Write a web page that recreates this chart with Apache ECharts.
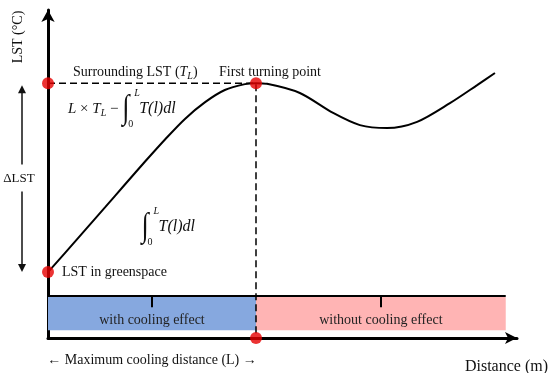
<!DOCTYPE html>
<html><head><meta charset="utf-8">
<script src="https://cdn.jsdelivr.net/npm/echarts@6/dist/echarts.min.js"></script>
<style>html,body{margin:0;padding:0;background:#fff}#c{width:550px;height:373px}</style>
</head><body><div id="c"></div>
<script>
// ---- data (distance units 0..100, LST units 0..100, conceptual) ----
const distance = [0, 3.6, 7.9, 12.2, 16.4, 20.7, 25.0, 29.2, 33.5, 37.7, 42.0, 44.35, 46.7, 53.7, 60.8, 66.5, 72.3, 78.7, 85.7, 91.5, 95.3];
const lst      = [20.1, 25.9, 32.9, 39.9, 46.8, 53.8, 60.6, 66.8, 71.9, 75.6, 77.4, 77.7, 77.5, 74.7, 68.6, 64.9, 64.0, 65.9, 71.6, 77.1, 80.8];
const surroundingLST = 77.7;
const greenspaceLST = 20.1;
const maxCoolingDistance = 44.35;
const zoneNames = ['with cooling effect', 'without cooling effect'];
const zoneStart = [0, 44.35];
const zoneEnd = [44.35, 97.6];
const zoneColors = ['#86a8df', '#ffb4b4'];
const zoneLow = 2.4, zoneHigh = 12.5, zoneBorder = 12.8, zoneTickBottom = 9.4;

const FAM = '"Liberation Serif", "Times New Roman", serif';
const chart = echarts.init(document.getElementById('c'), null, {renderer: 'canvas'});

const markAreas = zoneNames.map((n, i) => [
  {xAxis: zoneStart[i], yAxis: zoneLow, name: n, itemStyle: {color: zoneColors[i], opacity: 1},
   label: {show: true, position: 'insideBottom', distance: 3, color: '#222', fontFamily: FAM, fontSize: 14, formatter: n}},
  {xAxis: zoneEnd[i], yAxis: zoneHigh}
]);
const tickLines = zoneNames.map((n, i) => {
  const m = (zoneStart[i] + zoneEnd[i]) / 2;
  return [{coord: [m, zoneBorder]}, {coord: [m, zoneTickBottom]}];
});

chart.setOption({
  animation: false,
  grid: {left: 48, top: 10, width: 469, height: 328},
  xAxis: {type: 'value', min: 0, max: 100, splitLine: {show: false}, axisTick: {show: false}, axisLabel: {show: false},
    axisLine: {show: true, symbol: ['none', 'arrow'], symbolSize: [9, 12], lineStyle: {color: '#000', width: 3}}},
  yAxis: {type: 'value', min: 0, max: 100, splitLine: {show: false}, axisTick: {show: false}, axisLabel: {show: false},
    axisLine: {show: true, symbol: ['none', 'arrow'], symbolSize: [10, 12], lineStyle: {color: '#000', width: 3}}},
  series: [
    {type: 'line', z: 1, silent: true, symbol: 'none', clip: false,
     data: [[0, zoneBorder], [zoneEnd[1], zoneBorder]],
     lineStyle: {color: '#000', width: 2},
     markArea: {silent: true, data: markAreas},
     markLine: {silent: true, symbol: 'none', label: {show: false}, lineStyle: {color: '#000', width: 2, type: 'solid'}, data: tickLines}},
    {type: 'line', z: 3, silent: true, symbol: 'none', clip: false,
     data: [[0, surroundingLST], [maxCoolingDistance, surroundingLST], [maxCoolingDistance, 0]],
     lineStyle: {color: '#000', width: 1.5, type: [7, 4]}},
    {type: 'line', z: 5, silent: true, symbol: 'none', smooth: 0.3,
     data: distance.map((d, i) => [d, lst[i]]),
     lineStyle: {color: '#000', width: 2}},
    {type: 'scatter', z: 10, silent: true, clip: false, symbolSize: 12, itemStyle: {color: '#e60000'},
     data: [[0, surroundingLST], [maxCoolingDistance, surroundingLST], [0, greenspaceLST], [maxCoolingDistance, 0]]}
  ]
});

// ---- annotations ----
const ctx = document.createElement('canvas').getContext('2d');
function fnt(size, it) { return (it ? 'italic ' : '') + size + 'px ' + FAM; }
function tw(t, size, it) { ctx.font = fnt(size, it); return ctx.measureText(t).width; }
function txt(t, x, y, size, o) {
  o = o || {};
  return {type: 'text', x: x, y: y, rotation: o.rot || 0, scaleY: o.sy || 1, z: 30, silent: true,
    style: {text: t, font: fnt(size, o.it), fill: o.fill || '#111', align: o.align || 'left', verticalAlign: 'middle'}};
}
function seq(x, y, pieces, out) {
  for (const p of pieces) {
    if (p.int) {
      out.push(txt('\u222B', x, y, 26, {sy: 1.3}));
      out.push(txt(p.sup, x + 12, y - 16, 10, {it: true}));
      out.push(txt(p.sub, x + 6, y + 15, 10, {}));
      x += 17;
    } else {
      out.push(txt(p.t, x, y + (p.dy || 0), p.size, {it: p.it}));
      x += tw(p.t, p.size, p.it);
    }
  }
  return x;
}
const P = (x, y) => chart.convertToPixel({gridIndex: 0}, [x, y]);
const g = [];
const sDot = P(0, surroundingLST), tDot = P(maxCoolingDistance, surroundingLST), gDot = P(0, greenspaceLST), lDot = P(maxCoolingDistance, 0);

g.push(txt('LST (\u00B0C)', 18, 37, 14, {rot: Math.PI / 2, align: 'center'}));
g.push(txt('Distance (m)', 548, 367, 16, {align: 'right'}));
seq(sDot[0] + 25, sDot[1] - 11, [{t: 'Surrounding LST (', size: 14}, {t: 'T', size: 14, it: true}, {t: 'L', size: 10, it: true, dy: 4}, {t: ')', size: 14}], g);
g.push(txt('First turning point', tDot[0] + 14, tDot[1] - 11, 14, {align: 'center'}));
g.push(txt('LST in greenspace', gDot[0] + 14, gDot[1], 14));
seq(sDot[0] + 20, sDot[1] + 26, [{t: 'L', size: 15, it: true}, {t: ' \u00D7 ', size: 15}, {t: 'T', size: 15, it: true}, {t: 'L', size: 10, it: true, dy: 4}, {t: ' \u2212 ', size: 15}, {int: true, sup: 'L', sub: '0'}, {t: 'T(l)dl', size: 16, it: true}], g);
const mid = P(maxCoolingDistance * 0.45, 33.8);
seq(mid[0], mid[1], [{int: true, sup: 'L', sub: '0'}, {t: 'T(l)dl', size: 16, it: true}], g);

// delta LST arrow
const ax = 22, yTop = sDot[1] + 2, yBot = gDot[1];
const ymid = (yTop + yBot) / 2;
g.push({type: 'line', silent: true, z: 30, shape: {x1: ax, y1: yTop + 6, x2: ax, y2: ymid - 14}, style: {stroke: '#111', lineWidth: 1.5}});
g.push({type: 'line', silent: true, z: 30, shape: {x1: ax, y1: ymid + 13, x2: ax, y2: yBot - 6}, style: {stroke: '#111', lineWidth: 1.5}});
g.push({type: 'polygon', silent: true, z: 30, shape: {points: [[ax, yTop], [ax - 4, yTop + 8], [ax + 4, yTop + 8]]}, style: {fill: '#111'}});
g.push({type: 'polygon', silent: true, z: 30, shape: {points: [[ax, yBot], [ax - 4, yBot - 8], [ax + 4, yBot - 8]]}, style: {fill: '#111'}});
g.push(txt('\u0394LST', ax - 3, ymid, 13, {align: 'center'}));

// maximum cooling distance
g.push(txt('\u2190 Maximum cooling distance (L) \u2192', (sDot[0] + lDot[0]) / 2, 360, 14, {align: 'center'}));

chart.setOption({graphic: g});
</script></body></html>
